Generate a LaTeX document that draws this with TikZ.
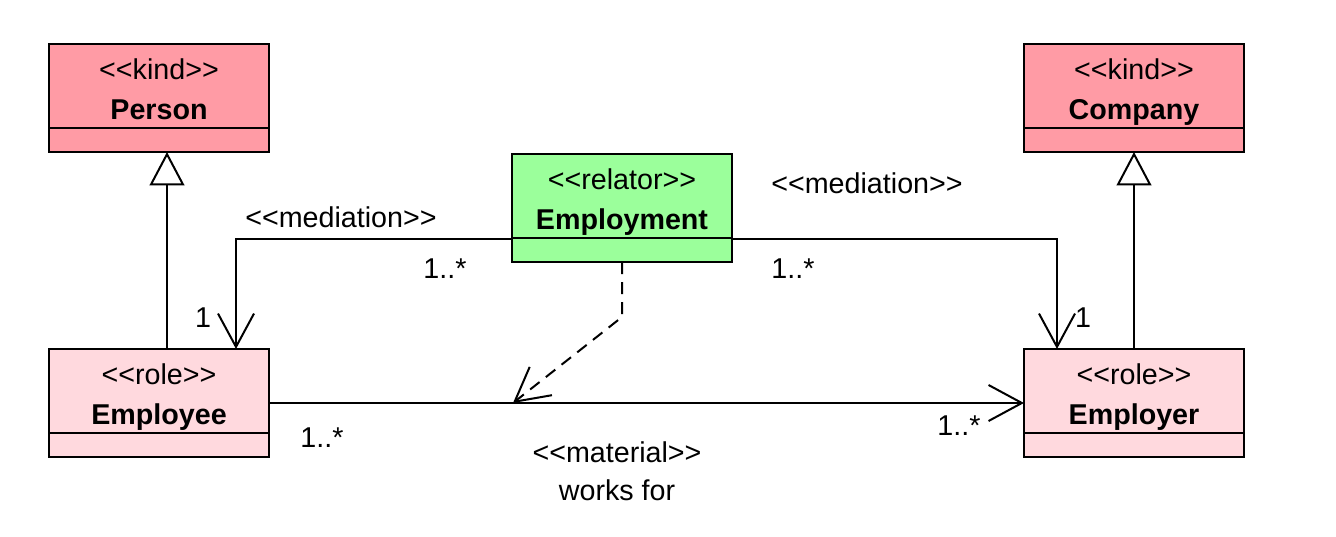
\documentclass[tikz,border=0pt]{standalone}
\usepackage{fontspec}
\setmainfont{Liberation Sans}
\usetikzlibrary{arrows.meta}
\definecolor{kindpink}{RGB}{255,155,165}
\definecolor{rolepink}{RGB}{255,217,222}
\definecolor{relgreen}{RGB}{155,255,155}
\def\stereo#1{<\kern0pt<#1>\kern0pt>}
\def\umlclass[#1](#2)(#3)#4#5{%
  \node[classbox,#1] (#2) at (#3) {};
  \node[anchor=base] (#2-st) at ([yshift=-26.25pt]#2.north) {\stereo{#4}};
  \node[anchor=base] (#2-nm) at ([yshift=-56.25pt]#2.north) {\bfseries #5};
  \draw[line width=1.5pt] ([yshift=-63pt]#2.north west) -- ([yshift=-63pt]#2.north east);}
\tikzset{
  classbox/.style={draw, line width=1.5pt, minimum width=165pt, minimum height=81pt, inner sep=0pt, outer sep=0pt},
  gen/.style={line width=1.5pt, -{Triangle[open, length=25pt, width=26pt]}},
  assoc/.style={line width=1.5pt, -{Straight Barb[length=25pt, width=27pt]}},
  deriv/.style={assoc, dash pattern=on 9pt off 6pt},
  lbl/.style={anchor=base}
}

\begin{document}
\begin{tikzpicture}[x=0.75pt, y=-0.75pt, font=\fontsize{21.5}{25}\selectfont]
	%%%%% START %%%%%
	\useasboundingbox (0,0) rectangle (1336,536);

	\umlclass[fill=kindpink](person)(159,98){kind}{Person}
	\umlclass[fill=kindpink](company)(1134,98){kind}{Company}
	\umlclass[fill=relgreen](employment)(622,208){relator}{Employment}
	\umlclass[fill=rolepink](employee)(159,403){role}{Employee}
	\umlclass[fill=rolepink](employer)(1134,403){role}{Employer}

	% generalizations
	\draw[gen] ([xshift=6pt]employee.north) -- ([xshift=6pt]person.south);
	\draw[gen] (employer.north) -- (company.south);

	% mediations
	\draw[assoc] ([yshift=-23.25pt]employment.west) -| ([xshift=57.75pt]employee.north);
	\draw[assoc] ([yshift=-23.25pt]employment.east) -| ([xshift=-57.75pt]employer.north);

	% material relation
	\draw[assoc] (employee.east) -- (employer.west);
	\coordinate (workmid) at (513,403);
	\draw[deriv] (employment.south) -- ++(0,55) -- (workmid);

	\node[lbl] (medL) at (341,227) {\stereo{mediation}};
	\node[lbl] (medR) at (867,193) {\stereo{mediation}};
	\node[lbl] (mulA) at (445,278) {1..*};
	\node[lbl] (mulB) at (793,278) {1..*};
	\node[lbl] (mulC) at (203,327) {1};
	\node[lbl] (mulD) at (1083,327) {1};
	\node[lbl] (mulE) at (322,447) {1..*};
	\node[lbl] (mulF) at (959,435) {1..*};
	\node[lbl] (mat) at (617,462) {\stereo{material}};
	\node[lbl] (wf) at (617,500) {works for};
	%%%%% END %%%%%
\end{tikzpicture}
\end{document}
